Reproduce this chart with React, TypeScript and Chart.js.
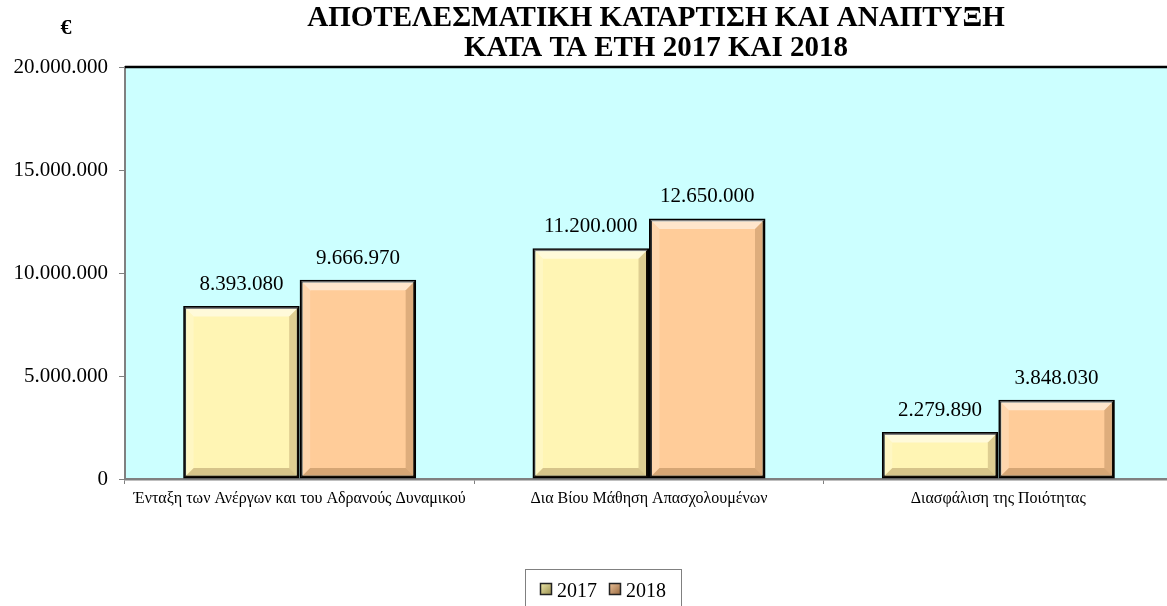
import React, { useEffect, useRef } from 'react';
import { Chart, registerables } from 'chart.js';

Chart.register(...registerables);

const categories = [
  'Ένταξη των Ανέργων και του Αδρανούς Δυναμικού',
  'Δια Βίου Μάθηση Απασχολουμένων',
  'Διασφάλιση της Ποιότητας',
];
const seriesNames = ['2017', '2018'];
const values2017 = [8393080, 11200000, 2279890];
const values2018 = [9666970, 12650000, 3848030];
const yTicks = [0, 5000000, 10000000, 15000000, 20000000];
const titleLines = ['ΑΠΟΤΕΛΕΣΜΑΤΙΚΗ ΚΑΤΑΡΤΙΣΗ ΚΑΙ ΑΝΑΠΤΥΞΗ', 'ΚΑΤΑ ΤΑ ΕΤΗ 2017 ΚΑΙ 2018'];
const unitLabel = '€';

const SERIF = '"Liberation Serif", "Times New Roman", serif';
const barFills = ['#FFF5B4', '#FFCC99'];
const legendGrad = [
  ['#F4EEB0', '#9A9050'],
  ['#F0C8A0', '#9A6A40'],
];

const fmt = (n: number) => String(Math.round(n)).replace(/\B(?=(\d{3})+(?!\d))/g, '.');

const decorPlugin = {
  id: 'decor',
  beforeDraw(chart: any) {
    const { ctx, chartArea: a } = chart;
    ctx.save();
    ctx.fillStyle = '#CCFFFF';
    ctx.fillRect(a.left, a.top, a.right - a.left, a.bottom - a.top);
    ctx.restore();
  },
  afterDatasetsDraw(chart: any) {
    const { ctx } = chart;
    ctx.save();
    chart.data.datasets.forEach((ds: any, di: number) => {
      const meta = chart.getDatasetMeta(di);
      meta.data.forEach((bar: any, i: number) => {
        const p = bar.getProps(['x', 'y', 'base', 'width'], true);
        const l = p.x - p.width / 2 + 1.5;
        const r = p.x + p.width / 2 - 1.5;
        const t = p.y + 1.5;
        const btm = p.base - 1.5;
        const b = Math.min(9, (btm - t) / 2);
        const poly = (pts: number[][], fill: string) => {
          ctx.beginPath();
          ctx.moveTo(pts[0][0], pts[0][1]);
          for (let k = 1; k < pts.length; k++) ctx.lineTo(pts[k][0], pts[k][1]);
          ctx.closePath();
          ctx.fillStyle = fill;
          ctx.fill();
        };
        poly([[l, t], [r, t], [r - b, t + b], [l + b, t + b]], 'rgba(255,255,255,0.5)');
        poly([[l, t], [l + b, t + b], [l + b, btm - b], [l, btm]], 'rgba(255,255,255,0.2)');
        poly([[r, t], [r, btm], [r - b, btm - b], [r - b, t + b]], 'rgba(90,50,10,0.2)');
        poly([[l, btm], [r, btm], [r - b, btm - b], [l + b, btm - b]], 'rgba(90,50,10,0.25)');
        ctx.fillStyle = '#000';
        ctx.font = `21px ${SERIF}`;
        ctx.textAlign = 'center';
        ctx.textBaseline = 'alphabetic';
        ctx.fillText(fmt(ds.data[i]), p.x, p.y - 16);
      });
    });
    ctx.restore();
  },
  afterDraw(chart: any) {
    const { ctx, chartArea: a } = chart;
    ctx.save();
    ctx.strokeStyle = '#000';
    ctx.lineWidth = 2.5;
    ctx.beginPath();
    ctx.moveTo(a.left, a.top);
    ctx.lineTo(a.right + 5, a.top);
    ctx.stroke();

    ctx.fillStyle = '#000';
    ctx.font = `bold 29px ${SERIF}`;
    ctx.textAlign = 'center';
    ctx.textBaseline = 'alphabetic';
    ctx.fillText(titleLines[0], 656, 26);
    ctx.fillText(titleLines[1], 656, 56);

    ctx.font = `bold 22px ${SERIF}`;
    ctx.fillText(unitLabel, 66, 34);

    ctx.font = `20px ${SERIF}`;
    ctx.textAlign = 'left';
    const sq = 12;
    const gapSq = 5;
    const gapItem = 12;
    let total = 0;
    seriesNames.forEach((n, i) => {
      total += sq + gapSq + ctx.measureText(n).width + (i < seriesNames.length - 1 ? gapItem : 0);
    });
    const boxW = total + 30;
    const cx = 603;
    const boxL = Math.round(cx - boxW / 2) + 0.5;
    ctx.strokeStyle = '#808080';
    ctx.lineWidth = 1;
    ctx.strokeRect(boxL, 569.5, boxW, 50);
    let x = cx - total / 2;
    seriesNames.forEach((n, i) => {
      const g = ctx.createLinearGradient(x, 582, x + sq, 582 + sq);
      g.addColorStop(0, legendGrad[i][0]);
      g.addColorStop(1, legendGrad[i][1]);
      ctx.fillStyle = g;
      ctx.fillRect(x, 583, sq, sq);
      ctx.strokeStyle = '#222';
      ctx.lineWidth = 1.5;
      ctx.strokeRect(x + 0.5, 583.5, sq - 1, sq - 1);
      ctx.fillStyle = '#000';
      ctx.fillText(n, x + sq + gapSq, 597);
      x += sq + gapSq + ctx.measureText(n).width + gapItem;
    });
    ctx.restore();
  },
};

export default function App() {
  const ref = useRef<HTMLCanvasElement | null>(null);

  useEffect(() => {
    document.documentElement.style.overflow = 'hidden';
    document.body.style.overflow = 'hidden';
    const canvas = ref.current;
    if (!canvas) return;
    const chart = new Chart(canvas, {
      type: 'bar',
      data: {
        labels: categories,
        datasets: [
          {
            label: seriesNames[0],
            data: values2017,
            backgroundColor: barFills[0],
            borderColor: '#000',
            borderWidth: 3,
            borderSkipped: false,
            barPercentage: 1,
            categoryPercentage: 0.667,
          },
          {
            label: seriesNames[1],
            data: values2018,
            backgroundColor: barFills[1],
            borderColor: '#000',
            borderWidth: 3,
            borderSkipped: false,
            barPercentage: 1,
            categoryPercentage: 0.667,
          },
        ],
      },
      options: {
        animation: false,
        responsive: false,
        maintainAspectRatio: false,
        layout: { padding: { top: 67, right: 2, left: 0, bottom: 0 } },
        plugins: {
          legend: { display: false },
          title: { display: false },
          tooltip: { enabled: false },
        },
        scales: {
          x: {
            grid: {
              display: true,
              drawOnChartArea: false,
              drawTicks: true,
              tickLength: 5,
              color: '#808080',
              offset: true,
            },
            border: { display: true, color: '#808080', width: 2.5 },
            ticks: {
              color: '#000',
              font: { family: SERIF, size: 16 },
              padding: 5,
              maxRotation: 0,
              autoSkip: false,
            },
            afterFit(scale: any) {
              scale.height = 127;
            },
          },
          y: {
            min: 0,
            max: 20000000,
            grid: {
              display: true,
              drawOnChartArea: false,
              drawTicks: true,
              tickLength: 6,
              color: '#808080',
            },
            border: { display: true, color: '#808080', width: 2 },
            ticks: {
              color: '#000',
              font: { family: SERIF, size: 21 },
              padding: 11,
              callback: (v: any) => fmt(Number(v)),
            },
            afterBuildTicks(scale: any) {
              scale.ticks = yTicks.map((v) => ({ value: v }));
            },
            afterFit(scale: any) {
              scale.width = 125;
            },
          },
        },
      },
      plugins: [decorPlugin],
    });
    return () => chart.destroy();
  }, []);

  return (
    <div style={{ position: 'fixed', left: 0, top: 0, width: 1175, height: 606, overflow: 'hidden' }}>
      <canvas ref={ref} width={1175} height={606} style={{ width: 1175, height: 606, display: 'block' }} />
    </div>
  );
}
